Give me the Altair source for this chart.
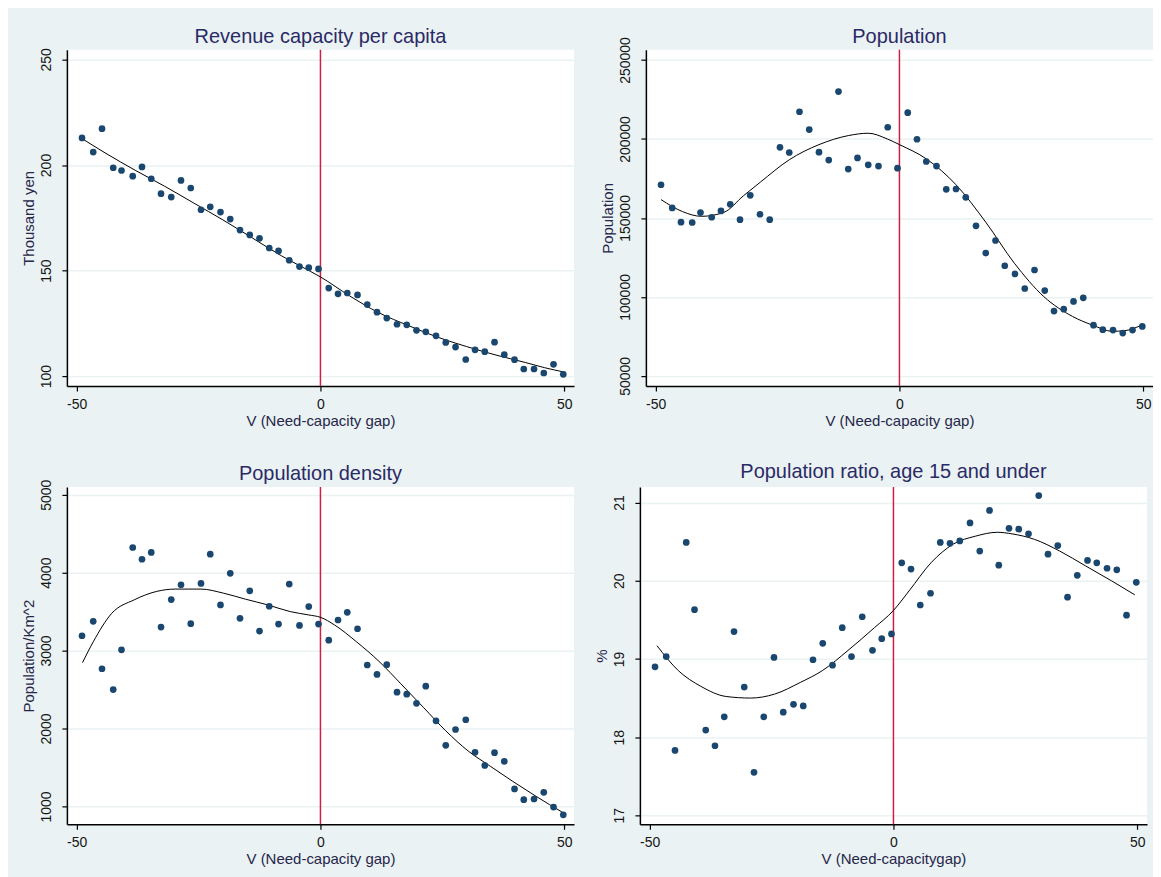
import altair as alt
import pandas as pd

# bin means of the running variable (same bins in all four panels)
bin_x = [-48.9, -46.6, -44.8, -42.5, -40.8, -38.5, -36.6, -34.7, -32.7, -30.6,
         -28.6, -26.6, -24.5, -22.6, -20.5, -18.5, -16.5, -14.5, -12.5, -10.5,
         -8.6, -6.4, -4.3, -2.4, -0.4, 1.7, 3.6, 5.5, 7.6, 9.6,
         11.6, 13.6, 15.7, 17.7, 19.7, 21.6, 23.7, 25.7, 27.7, 29.8,
         31.7, 33.7, 35.7, 37.7, 39.8, 41.7, 43.8, 45.8, 47.8, 49.8]

# binned means
rev_y = [212.8, 206.1, 217.2, 198.7, 197.4, 194.7, 199.1, 193.5, 186.4, 184.8,
         192.7, 189.1, 178.8, 180.2, 177.7, 174.4, 169.2, 166.9, 165.3, 160.7,
         159.3, 154.9, 151.9, 151.4, 150.8, 141.7, 139.0, 139.4, 138.5, 133.9,
         130.3, 127.5, 124.6, 124.3, 121.7, 121.0, 119.1, 116.0, 113.8, 107.9,
         112.5, 111.6, 116.1, 110.2, 107.8, 103.4, 103.4, 101.5, 105.6, 100.9]
pop_y = [171000, 156300, 147300, 147100, 153400, 150400, 154400, 158600, 148900, 164300,
         152300, 148900, 194700, 191400, 217200, 205900, 191600, 186600, 230000, 180900,
         188000, 183600, 182800, 207400, 181500, 216600, 199800, 185700, 182800, 168100,
         168300, 163000, 145000, 127700, 135700, 119700, 114500, 105300, 117000, 104000,
         91000, 92200, 97100, 99400, 82100, 79200, 79000, 77100, 79000, 81300]
dens_y = [3190, 3375, 2767, 2500, 3009, 4323, 4172, 4259, 3302, 3655,
          3845, 3345, 3862, 4237, 3586, 3991, 3414, 3767, 3250, 3569,
          3340, 3853, 3323, 3565, 3340, 3134, 3392, 3491, 3280, 2815,
          2694, 2819, 2466, 2440, 2323, 2543, 2099, 1784, 1987, 2112,
          1694, 1526, 1690, 1578, 1224, 1086, 1095, 1181, 991, 892]
ratio_y = [18.90, 19.03, 17.83, 20.49, 19.63, 18.09, 17.89, 18.26, 19.35, 18.64,
           17.55, 18.26, 19.02, 18.32, 18.42, 18.40, 18.99, 19.20, 18.92, 19.40,
           19.03, 19.54, 19.11, 19.26, 19.32, 20.23, 20.15, 19.69, 19.84, 20.49,
           20.48, 20.51, 20.74, 20.38, 20.90, 20.20, 20.67, 20.66, 20.60, 21.09,
           20.34, 20.45, 19.79, 20.07, 20.26, 20.23, 20.16, 20.14, 19.56, 19.98]

# fitted polynomial curves
rev_fit_x = [-48.9, -44, -38, -32, -26, -20, -14, -8, -4, 0, 6, 12, 18, 24, 30, 36, 42, 46, 49.9]
rev_fit_y = [212.5, 205.5, 197.5, 190, 182, 174, 165.5, 157, 152, 147, 138, 130, 124, 118.5, 114,
             110, 106.5, 104, 102]
pop_fit_x = [-48.9, -44.5, -40.6, -36, -32, -28.5, -22.6, -16.5, -10.5, -6.4, -2.5, 0, 5.6, 11.6,
             17.7, 23.6, 29.6, 35.5, 39.7, 43.7, 46, 49.6]
pop_fit_y = [161600, 154000, 151000, 153500, 164000, 172700, 186800, 196400, 202100, 203600, 200000,
             196400, 187200, 171000, 147300, 121200, 100200, 87600, 82000, 78200, 78500, 82000]
dens_fit_x = [-48.8, -46.6, -42.8, -38.2, -33.6, -29.8, -24.5, -19.9, -15.4, -10.8, -6.2, -2.4, 0,
              2.9, 7.4, 12, 16.5, 21.1, 25.7, 30.3, 34.8, 39.4, 44, 49.9]
dens_fit_y = [2845, 3112, 3478, 3651, 3759, 3789, 3789, 3737, 3660, 3586, 3500, 3457, 3427,
              3328, 3112, 2862, 2573, 2272, 1970, 1711, 1517, 1323, 1138, 914]
ratio_fit_x = [-48.5, -44.1, -39.5, -34.3, -29.3, -24.4, -19.1, -14.6, -9.3, -3.9, 0, 3.2, 7.7,
               12.3, 16.8, 21.3, 24.3, 28.9, 34.1, 39.4, 44.7, 49.5]
ratio_fit_y = [19.17, 18.85, 18.65, 18.52, 18.50, 18.55, 18.70, 18.85, 19.11, 19.40, 19.62, 19.87,
               20.23, 20.47, 20.57, 20.62, 20.60, 20.53, 20.38, 20.19, 20.00, 19.82]

x_ticks = [-50, 0, 50]

NAVY = "#1a476f"
RED = "#cf1f45"
BG = "#eaf2f3"
FONT = "Liberation Sans"


def panel(title, y_title, x_title, y_vals, fit_x, fit_y, y_domain, y_ticks, width, height,
          title_offset):
    pts = pd.DataFrame({"x": bin_x, "y": y_vals})
    fit = pd.DataFrame({"x": fit_x, "y": fit_y})

    x_enc = alt.X("x:Q", scale=alt.Scale(domain=[-52, 52], nice=False, zero=False),
                  axis=alt.Axis(values=x_ticks, title=x_title, labelExpr="'' + datum.value"))
    y_enc = alt.Y("y:Q", scale=alt.Scale(domain=y_domain, nice=False, zero=False),
                  axis=alt.Axis(values=y_ticks, title=y_title, labelExpr="'' + datum.value"))

    cut = alt.Chart(pd.DataFrame({"x": [0]})).mark_rule(color=RED, strokeWidth=1.5).encode(
        x=alt.X("x:Q"))
    line = alt.Chart(fit).mark_line(color="black", strokeWidth=1, interpolate="monotone").encode(
        x=x_enc, y=y_enc)
    dots = alt.Chart(pts).mark_circle(size=45, color=NAVY, opacity=1).encode(x=x_enc, y=y_enc)

    # offset compensates for rotated top tick labels poking above the plot
    return alt.layer(cut, line, dots).properties(
        title=alt.TitleParams(title, offset=title_offset), width=width, height=height)


p1 = panel("Revenue capacity per capita", "Thousand yen", "V (Need-capacity gap)",
           rev_y, rev_fit_x, rev_fit_y, [95.3, 254.6], [100, 150, 200, 250], 508, 337, 0.5)
p2 = panel("Population", "Population", "V (Need-capacity gap)",
           pop_y, pop_fit_x, pop_fit_y, [43500, 256500],
           [50000, 100000, 150000, 200000, 250000], 508, 337, -10.5)
p3 = panel("Population density", "Population/Km^2", "V (Need-capacity gap)",
           dens_y, dens_fit_x, dens_fit_y, [770, 5100], [1000, 2000, 3000, 4000, 5000], 508, 338, -5)
p4 = panel("Population ratio, age 15 and under", "%", "V (Need-capacitygap)",
           ratio_y, ratio_fit_x, ratio_fit_y, [16.885, 21.2], [17, 18, 19, 20, 21], 508, 338, 4)

# total width kept under the page's 1145px content box so the svg is not shrunk
chart = alt.vconcat(
    alt.hconcat(p1, p2, spacing=27),
    alt.hconcat(p3, p4, spacing=21),
    spacing=34
).properties(
    background=BG,
    padding={"left": 14, "top": 18, "right": 0, "bottom": 20}
).configure_view(
    fill="white", strokeWidth=0
).configure_title(
    font=FONT, fontSize=20, fontWeight="normal", color="#2a2a66", anchor="middle"
).configure_axis(
    domainColor="black", domainWidth=1.5, tickColor="black", tickWidth=1.2, tickSize=5,
    labelFont=FONT, labelFontSize=14, labelColor="#151515", labelFlush=False,
    titleFont=FONT, titleFontSize=15, titleFontWeight="normal", titleColor="#26264a"
).configure_axisX(
    grid=False, labelPadding=6, titlePadding=2, minExtent=25, maxExtent=25
).configure_axisY(
    grid=True, gridColor=BG, gridWidth=1.5, labelAngle=270, labelAlign="center",
    labelBaseline="bottom", labelPadding=8, titlePadding=3, minExtent=27, maxExtent=27
)

chart.save("out.html", embed_options={"renderer": "svg", "actions": False})
